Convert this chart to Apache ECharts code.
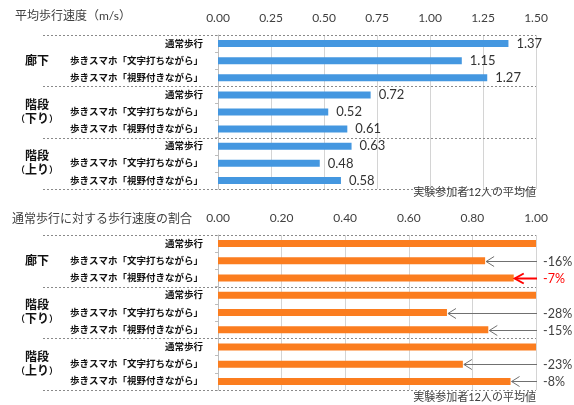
<!DOCTYPE html>
<html><head><meta charset="utf-8">
<script src="https://cdn.jsdelivr.net/npm/echarts@6/dist/echarts.min.js"></script>
<style>html,body{margin:0;padding:0;background:#fff}#c{width:574px;height:405px}</style>
</head><body><div id="c"></div>
<script>
const groups = ['廊下', '階段\n（下り）', '階段\n（上り）'];
const categories = [
  '通常歩行', '歩きスマホ「文字打ちながら」', '歩きスマホ「視野付きながら」',
  '通常歩行', '歩きスマホ「文字打ちながら」', '歩きスマホ「視野付きながら」',
  '通常歩行', '歩きスマホ「文字打ちながら」', '歩きスマホ「視野付きながら」'
];
const speed = [1.37, 1.15, 1.27, 0.72, 0.52, 0.61, 0.63, 0.48, 0.58];
const ratio = [1.00, 0.84, 0.93, 1.00, 0.72, 0.85, 1.00, 0.77, 0.92];
const changeLabels = ['', '-16%', '-7%', '', '-28%', '-15%', '', '-23%', '-8%'];
const highlightIndex = 2;
const speedTicks = { min: 0, max: 1.5, interval: 0.25 };
const ratioTicks = { min: 0, max: 1.0, interval: 0.2 };
const title1 = '平均歩行速度（m/s）';
const title2 = '通常歩行に対する歩行速度の割合';
const note = '実験参加者12人の平均値';
const groupBoundaries = [[0, -1], [3, -1], [6, -1], [8, 1]];

const FONT = "Lato, 'Noto Sans CJK JP', sans-serif";
const chart = echarts.init(document.getElementById('c'));

function xAxisFor(gi, t) {
  return {
    type: 'value', gridIndex: gi, position: 'top', min: t.min, max: t.max, interval: t.interval,
    axisLine: { show: false }, axisTick: { show: false },
    axisLabel: { formatter: v => v.toFixed(2), fontSize: 12, color: '#404040', margin: 11, fontFamily: FONT },
    splitLine: { show: true, lineStyle: { color: '#d4d4d4', width: 1 } }
  };
}
function catAxis(gi) {
  return {
    type: 'category', gridIndex: gi, data: categories, inverse: true, position: 'left',
    axisLine: { show: true, lineStyle: { color: '#bdbdbd' } },
    axisTick: { show: true, length: 3, lineStyle: { color: '#bdbdbd' } },
    axisLabel: { fontSize: 9.5, fontWeight: 'bold', color: '#111', margin: 15, fontFamily: FONT },
    splitLine: { show: false }
  };
}
function groupAxis(gi) {
  return {
    type: 'category', gridIndex: gi, data: groups, inverse: true, position: 'left',
    axisLine: { show: false }, axisTick: { show: false }, splitLine: { show: false },
    axisLabel: {
      align: 'center', margin: 181, fontSize: 12, fontWeight: 'bold', color: '#111', lineHeight: 14, fontFamily: FONT,
      formatter: v => v.replace('（', '{p|（}').replace('）', '{p|）}'),
      rich: { p: { fontSize: 9, fontWeight: 'bold', color: '#111', fontFamily: FONT } }
    }
  };
}
function separators(xi, yi) {
  return {
    type: 'custom', xAxisIndex: xi, yAxisIndex: yi, silent: true, clip: false, z: 5,
    data: groupBoundaries.map(b => [0, b[0], b[1]]),
    renderItem: (params, api) => {
      const cs = params.coordSys;
      const c = api.coord([0, api.value(1)]);
      const band = api.size([0, 1])[1];
      const y = Math.round(c[1] + api.value(2) * band / 2) + 0.5;
      return { type: 'line', shape: { x1: 43, y1: y, x2: cs.x + cs.width, y2: y },
        style: { stroke: '#8a8a8a', lineWidth: 1, lineDash: [2, 2] } };
    }
  };
}

chart.setOption({
  animation: false,
  textStyle: { fontFamily: FONT },
  title: [
    { text: title1, left: 10, top: 5, textStyle: { fontSize: 12, fontWeight: 'normal', color: '#404040', fontFamily: FONT } },
    { text: title2, left: 7, top: 208, textStyle: { fontSize: 12, fontWeight: 'normal', color: '#404040', fontFamily: FONT } },
    { text: note, right: 33, top: 182, textStyle: { fontSize: 11, fontWeight: 'normal', color: '#404040', fontFamily: FONT } },
    { text: note, right: 33, top: 387, textStyle: { fontSize: 11, fontWeight: 'normal', color: '#404040', fontFamily: FONT } }
  ],
  grid: [
    { left: 218, right: 38, top: 35, height: 154 },
    { left: 218, right: 38, top: 235, height: 155 }
  ],
  xAxis: [xAxisFor(0, speedTicks), xAxisFor(1, ratioTicks)],
  yAxis: [catAxis(0), groupAxis(0), catAxis(1), groupAxis(1)],
  series: [
    {
      type: 'bar', xAxisIndex: 0, yAxisIndex: 0, data: speed, barWidth: 7,
      itemStyle: { color: '#4497e0' },
      label: { show: true, position: 'right', distance: 8, fontSize: 13, color: '#333', fontFamily: FONT,
        formatter: p => p.value.toFixed(2) }
    },
    {
      type: 'bar', xAxisIndex: 1, yAxisIndex: 2, data: ratio, barWidth: 7,
      itemStyle: { color: '#fb7d1f' }
    },
    separators(0, 0),
    separators(1, 2),
    {
      type: 'custom', xAxisIndex: 1, yAxisIndex: 2, silent: true, clip: false, z: 6,
      data: ratio.map((v, i) => [v, i]).filter(d => changeLabels[d[1]] !== ''),
      renderItem: (params, api) => {
        const cs = params.coordSys;
        const i = api.value(1);
        const p = api.coord([api.value(0), i]);
        const y = Math.round(p[1]) + 0.5;
        const xr = cs.x + cs.width + 1;
        const hot = i === highlightIndex;
        const col = hot ? '#ff0000' : '#707070';
        const lw = hot ? 2 : 1;
        const ah = hot ? 9 : 8, aw = 5;
        const tip = p[0] + 1;
        return {
          type: 'group',
          children: [
            { type: 'line', shape: { x1: tip, y1: y, x2: xr, y2: y }, style: { stroke: col, lineWidth: lw } },
            { type: 'polyline', shape: { points: [[tip + ah, y - aw], [tip, y], [tip + ah, y + aw]] },
              style: { stroke: col, lineWidth: lw, fill: null } },
            { type: 'text', x: xr + 6, y: y,
              style: { text: changeLabels[i], fill: hot ? '#ff0000' : '#404040', fontSize: 12.5,
                fontFamily: FONT, verticalAlign: 'middle', align: 'left' } }
          ]
        };
      }
    }
  ]
});
</script></body></html>
